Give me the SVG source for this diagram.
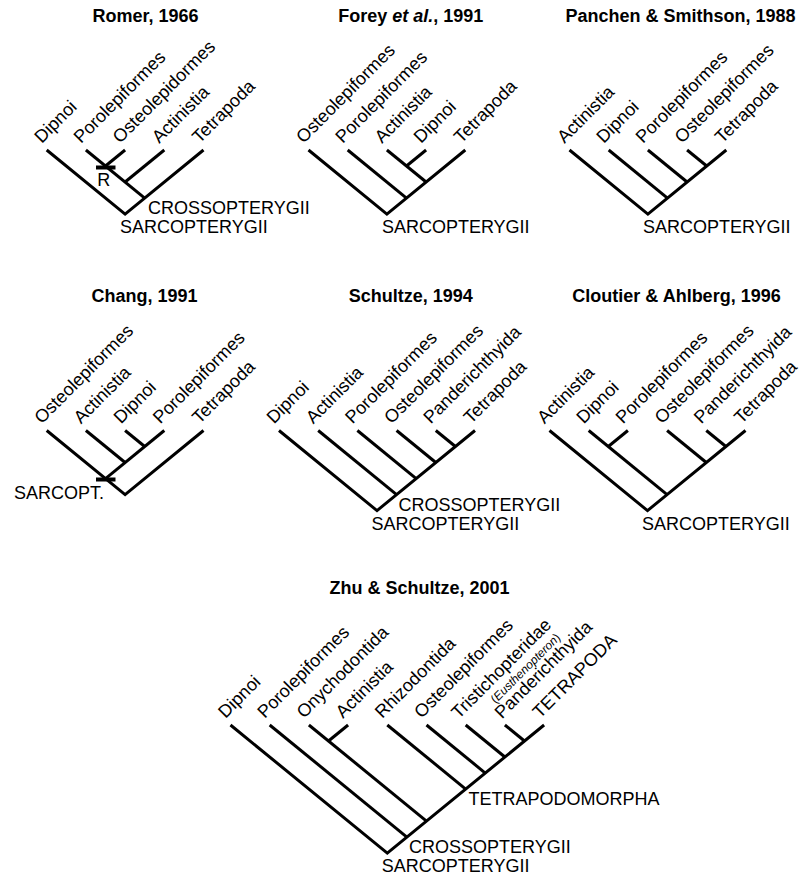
<svg xmlns="http://www.w3.org/2000/svg" width="806" height="878" viewBox="0 0 806 878">
<style>
.br{stroke:#000;stroke-width:3;fill:none;stroke-linejoin:miter;stroke-linecap:butt}
.t{font-family:"Liberation Sans",Arial,sans-serif;font-size:18px;fill:#000}
.ttl{font-family:"Liberation Sans",Arial,sans-serif;font-size:18px;font-weight:bold;fill:#000;text-anchor:middle}
.sm{font-family:"Liberation Sans",Arial,sans-serif;font-size:12px;fill:#000}
.bar{fill:#000}
</style>
<rect width="806" height="878" fill="#fff"/>

<!-- Romer 1966 -->
<g id="romer">
<g id="romer-title"><text class="ttl" x="145.5" y="22">Romer, 1966</text></g>
<g id="romer-connectors">
<path class="br" d="M46.7,150 L125.1,214.05 L203.5,150"/>
<path class="br" d="M85.9,150 L144.7,198.04"/>
<path class="br" d="M125.1,150 L105.5,166.01"/>
<path class="br" d="M164.3,150 L125.1,182.03"/>
<rect class="bar" x="96" y="165.5" width="19.5" height="4"/>
</g>
<g id="romer-dipnoi"><text class="t" transform="translate(41.7,144) rotate(-45)">Dipnoi</text></g>
<g id="romer-porolepiformes"><text class="t" transform="translate(80.9,144) rotate(-45)">Porolepiformes</text></g>
<g id="romer-osteolepidormes"><text class="t" transform="translate(120.1,144) rotate(-45)">Osteolepidormes</text></g>
<g id="romer-actinistia"><text class="t" transform="translate(159.3,144) rotate(-45)">Actinistia</text></g>
<g id="romer-tetrapoda"><text class="t" transform="translate(199.5,144) rotate(-45)">Tetrapoda</text></g>
<g id="romer-r"><text class="t" x="97.3" y="186">R</text></g>
<g id="romer-crossopterygii"><text class="t" x="148" y="214">CROSSOPTERYGII</text></g>
<g id="romer-sarcopterygii"><text class="t" x="120" y="233">SARCOPTERYGII</text></g>
</g>

<!-- Forey et al. 1991 -->
<g id="forey">
<g id="forey-title"><text class="ttl" x="410.8" y="22">Forey <tspan font-style="italic">et al.</tspan>, 1991</text></g>
<g id="forey-connectors">
<path class="br" d="M308.5,150 L386.9,214.05 L465.3,150"/>
<path class="br" d="M347.7,150 L406.5,198.04"/>
<path class="br" d="M386.9,150 L426.1,182.03"/>
<path class="br" d="M426.1,150 L406.5,166.01"/>
</g>
<g id="forey-osteolepiformes"><text class="t" transform="translate(303.5,144) rotate(-45)">Osteolepiformes</text></g>
<g id="forey-porolepiformes"><text class="t" transform="translate(342.7,144) rotate(-45)">Porolepiformes</text></g>
<g id="forey-actinistia"><text class="t" transform="translate(381.9,144) rotate(-45)">Actinistia</text></g>
<g id="forey-dipnoi"><text class="t" transform="translate(421.1,144) rotate(-45)">Dipnoi</text></g>
<g id="forey-tetrapoda"><text class="t" transform="translate(461.3,144) rotate(-45)">Tetrapoda</text></g>
<g id="forey-sarcopterygii"><text class="t" x="381.9" y="233">SARCOPTERYGII</text></g>
</g>

<!-- Panchen & Smithson 1988 -->
<g id="panchen">
<g id="panchen-title"><text class="ttl" x="680.5" y="22">Panchen &amp; Smithson, 1988</text></g>
<g id="panchen-connectors">
<path class="br" d="M569.5,150 L647.9,214.05 L726.3,150"/>
<path class="br" d="M608.7,150 L667.5,198.04"/>
<path class="br" d="M647.9,150 L687.1,182.03"/>
<path class="br" d="M687.1,150 L706.7,166.01"/>
</g>
<g id="panchen-actinistia"><text class="t" transform="translate(564.5,144) rotate(-45)">Actinistia</text></g>
<g id="panchen-dipnoi"><text class="t" transform="translate(603.7,144) rotate(-45)">Dipnoi</text></g>
<g id="panchen-porolepiformes"><text class="t" transform="translate(642.9,144) rotate(-45)">Porolepiformes</text></g>
<g id="panchen-osteolepiformes"><text class="t" transform="translate(682.1,144) rotate(-45)">Osteolepiformes</text></g>
<g id="panchen-tetrapoda"><text class="t" transform="translate(722.3,144) rotate(-45)">Tetrapoda</text></g>
<g id="panchen-sarcopterygii"><text class="t" x="642.9" y="233">SARCOPTERYGII</text></g>
</g>

<!-- Chang 1991 -->
<g id="chang">
<g id="chang-title"><text class="ttl" x="144.5" y="302">Chang, 1991</text></g>
<g id="chang-connectors">
<path class="br" d="M46.7,430.5 L125.1,494.55 L203.5,430.5"/>
<path class="br" d="M164.3,430.5 L105.5,478.54"/>
<path class="br" d="M85.9,430.5 L125.1,462.53"/>
<path class="br" d="M125.1,430.5 L144.7,446.51"/>
<rect class="bar" x="96" y="477.5" width="19.5" height="4"/>
</g>
<g id="chang-osteolepiformes"><text class="t" transform="translate(41.7,424.5) rotate(-45)">Osteolepiformes</text></g>
<g id="chang-actinistia"><text class="t" transform="translate(80.9,424.5) rotate(-45)">Actinistia</text></g>
<g id="chang-dipnoi"><text class="t" transform="translate(121.1,424.5) rotate(-45)">Dipnoi</text></g>
<g id="chang-porolepiformes"><text class="t" transform="translate(160.3,424.5) rotate(-45)">Porolepiformes</text></g>
<g id="chang-tetrapoda"><text class="t" transform="translate(199.5,424.5) rotate(-45)">Tetrapoda</text></g>
<g id="chang-sarcopt"><text class="t" x="14" y="499">SARCOPT.</text></g>
</g>

<!-- Schultze 1994 -->
<g id="schultze">
<g id="schultze-title"><text class="ttl" x="410.8" y="302">Schultze, 1994</text></g>
<g id="schultze-connectors">
<path class="br" d="M279,430.5 L377,510.57 L475,430.5"/>
<path class="br" d="M318.2,430.5 L396.6,494.55"/>
<path class="br" d="M357.4,430.5 L416.2,478.54"/>
<path class="br" d="M396.6,430.5 L435.8,462.53"/>
<path class="br" d="M435.8,430.5 L455.4,446.51"/>
</g>
<g id="schultze-dipnoi"><text class="t" transform="translate(274,424.5) rotate(-45)">Dipnoi</text></g>
<g id="schultze-actinistia"><text class="t" transform="translate(313.2,424.5) rotate(-45)">Actinistia</text></g>
<g id="schultze-porolepiformes"><text class="t" transform="translate(352.4,424.5) rotate(-45)">Porolepiformes</text></g>
<g id="schultze-osteolepiformes"><text class="t" transform="translate(391.6,424.5) rotate(-45)">Osteolepiformes</text></g>
<g id="schultze-panderichthyida"><text class="t" transform="translate(430.8,424.5) rotate(-45)">Panderichthyida</text></g>
<g id="schultze-tetrapoda"><text class="t" transform="translate(471,424.5) rotate(-45)">Tetrapoda</text></g>
<g id="schultze-crossopterygii"><text class="t" x="398.5" y="511">CROSSOPTERYGII</text></g>
<g id="schultze-sarcopterygii"><text class="t" x="371.5" y="529.5">SARCOPTERYGII</text></g>
</g>

<!-- Cloutier & Ahlberg 1996 -->
<g id="cloutier">
<g id="cloutier-title"><text class="ttl" x="676.5" y="302">Cloutier &amp; Ahlberg, 1996</text></g>
<g id="cloutier-connectors">
<path class="br" d="M549.5,430.5 L647.5,510.57 L745.5,430.5"/>
<path class="br" d="M588.7,430.5 L667.1,494.55"/>
<path class="br" d="M627.9,430.5 L608.3,446.51"/>
<path class="br" d="M667.1,430.5 L706.3,462.53"/>
<path class="br" d="M706.3,430.5 L725.9,446.51"/>
</g>
<g id="cloutier-actinistia"><text class="t" transform="translate(544.5,424.5) rotate(-45)">Actinistia</text></g>
<g id="cloutier-dipnoi"><text class="t" transform="translate(583.7,424.5) rotate(-45)">Dipnoi</text></g>
<g id="cloutier-porolepiformes"><text class="t" transform="translate(622.9,424.5) rotate(-45)">Porolepiformes</text></g>
<g id="cloutier-osteolepiformes"><text class="t" transform="translate(662.1,424.5) rotate(-45)">Osteolepiformes</text></g>
<g id="cloutier-panderichthyida"><text class="t" transform="translate(701.3,424.5) rotate(-45)">Panderichthyida</text></g>
<g id="cloutier-tetrapoda"><text class="t" transform="translate(741.5,424.5) rotate(-45)">Tetrapoda</text></g>
<g id="cloutier-sarcopterygii"><text class="t" x="642" y="529.5">SARCOPTERYGII</text></g>
</g>

<!-- Zhu & Schultze 2001 -->
<g id="zhu">
<g id="zhu-title"><text class="ttl" x="419.5" y="594">Zhu &amp; Schultze, 2001</text></g>
<g id="zhu-connectors">
<path class="br" d="M230.5,725 L387.3,853.1 L544.1,725"/>
<path class="br" d="M269.7,725 L406.9,837.09"/>
<path class="br" d="M308.9,725 L426.5,821.08"/>
<path class="br" d="M348.1,725 L328.5,741.01"/>
<path class="br" d="M387.3,725 L465.7,789.05"/>
<path class="br" d="M426.5,725 L485.3,773.04"/>
<path class="br" d="M465.7,725 L504.9,757.02"/>
<path class="br" d="M504.9,725 L524.5,741.01"/>
</g>
<g id="zhu-dipnoi"><text class="t" transform="translate(225.5,719) rotate(-45)">Dipnoi</text></g>
<g id="zhu-porolepiformes"><text class="t" transform="translate(264.7,719) rotate(-45)">Porolepiformes</text></g>
<g id="zhu-onychodontida"><text class="t" transform="translate(303.9,719) rotate(-45)">Onychodontida</text></g>
<g id="zhu-actinistia"><text class="t" transform="translate(343.1,719) rotate(-45)">Actinistia</text></g>
<g id="zhu-rhizodontida"><text class="t" transform="translate(382.3,719) rotate(-45)">Rhizodontida</text></g>
<g id="zhu-osteolepiformes"><text class="t" transform="translate(421.5,719) rotate(-45)">Osteolepiformes</text></g>
<g id="zhu-tristichopteridae"><text class="t" transform="translate(458.7,719.5) rotate(-45)">Tristichopteridae</text>
<text class="sm" transform="translate(495.5,704) rotate(-45)">(<tspan font-style="italic">Eusthenopteron</tspan>)</text></g>
<g id="zhu-panderichthyida"><text class="t" transform="translate(502,719.5) rotate(-45)">Panderichthyida</text></g>
<g id="zhu-tetrapoda"><text class="t" transform="translate(540.1,719) rotate(-45)">TETRAPODA</text></g>
<g id="zhu-tetrapodomorpha"><text class="t" x="468.5" y="805">TETRAPODOMORPHA</text></g>
<g id="zhu-crossopterygii"><text class="t" x="409" y="853">CROSSOPTERYGII</text></g>
<g id="zhu-sarcopterygii"><text class="t" x="381.7" y="872">SARCOPTERYGII</text></g>
</g>
</svg>
